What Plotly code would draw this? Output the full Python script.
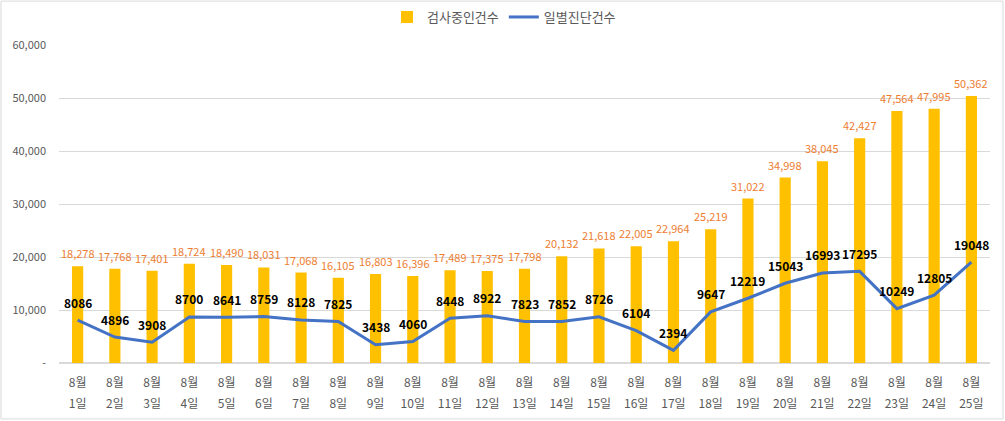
import plotly.graph_objects as go

months = ["8월"] * 25
day_labels = [f"{d}일" for d in range(1, 26)]
testing = [18278, 17768, 17401, 18724, 18490, 18031, 17068, 16105, 16803, 16396,
           17489, 17375, 17798, 20132, 21618, 22005, 22964, 25219, 31022, 34998,
           38045, 42427, 47564, 47995, 50362]
confirmed = [8086, 4896, 3908, 8700, 8641, 8759, 8128, 7825, 3438, 4060,
             8448, 8922, 7823, 7852, 8726, 6104, 2394, 9647, 12219, 15043,
             16993, 17295, 10249, 12805, 19048]
ytick_vals = [0, 10000, 20000, 30000, 40000, 50000, 60000]
ytick_text = ["-", "10,000", "20,000", "30,000", "40,000", "50,000", "60,000"]

FONT = "Noto Sans CJK KR"
idx = list(range(len(day_labels)))

fig = go.Figure()
fig.add_trace(go.Bar(
    x=idx, y=testing, name="검사중인건수",
    marker=dict(color="#FFC000", line=dict(width=0)),
))
fig.add_trace(go.Scatter(
    x=idx, y=confirmed, name="일별진단건수", mode="lines",
    line=dict(color="#4472C4", width=3),
))
# invisible helper trace so the second (day) label axis is drawn
fig.add_trace(go.Scatter(
    x=idx, y=confirmed, xaxis="x2", mode="lines", opacity=0,
    line=dict(width=0), showlegend=False, hoverinfo="skip",
))

annotations = []
for i, v in zip(idx, testing):
    annotations.append(dict(x=i, y=v, text=f"{v:,}", showarrow=False, yshift=13,
                            yanchor="middle", font=dict(color="#ED7D31", size=11, family=FONT)))
for i, v in zip(idx, confirmed):
    annotations.append(dict(x=i, y=v, text=f"<b>{v}</b>", showarrow=False, yshift=18,
                            yanchor="middle", font=dict(color="#000000", size=12, family=FONT)))

rng = [-0.5, len(day_labels) - 0.5]
fig.update_layout(
    width=1005, height=421,
    margin=dict(l=59, r=15, t=45, b=58, autoexpand=False),
    paper_bgcolor="white", plot_bgcolor="white",
    font=dict(family=FONT, color="#595959", size=11),
    bargap=0.7,
    showlegend=True,
    legend=dict(orientation="h", x=0.478, xanchor="center", y=1.088, yanchor="middle",
                font=dict(size=13, color="#595959"), bgcolor="rgba(0,0,0,0)",
                itemwidth=30),
    annotations=annotations,
    xaxis=dict(range=rng, tickmode="array", tickvals=idx, ticktext=months,
               showline=False, showgrid=False, zeroline=False, ticks="", automargin=False,
               ticklabelstandoff=11, tickfont=dict(size=12, color="#595959")),
    xaxis2=dict(range=rng, tickmode="array", tickvals=idx, ticktext=day_labels,
                overlaying="x", side="bottom", anchor="y",
                showline=False, showgrid=False, zeroline=False, ticks="", automargin=False,
                ticklabelstandoff=32, tickfont=dict(size=12, color="#595959")),
    yaxis=dict(range=[0, 60000], tickvals=ytick_vals, ticktext=ytick_text,
               showgrid=True, gridcolor="#D9D9D9", gridwidth=1, zeroline=True,
               zerolinecolor="#D9D9D9", showline=False, ticks="", automargin=False,
               ticklabelstandoff=12, tickfont=dict(size=11, color="#595959")),
)

fig.add_shape(type="rect", xref="paper", yref="paper",
              x0=-0.0623, x1=1.0140, y0=-0.176, y1=1.138,
              line=dict(color="#D9D9D9", width=1), layer="below")

fig.write_html("out.html", config={"displayModeBar": False},
               post_script="document.body.style.margin='0';")
